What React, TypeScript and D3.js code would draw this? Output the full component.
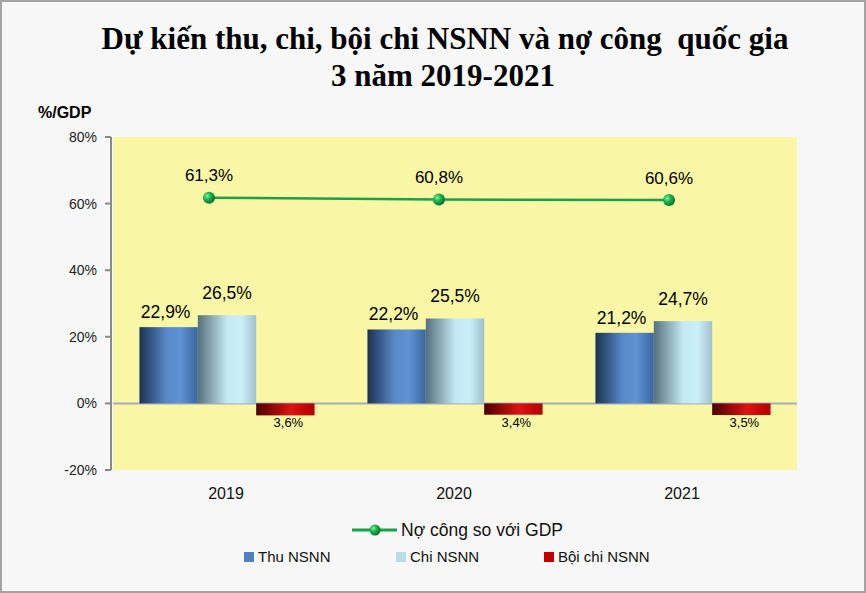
import React from "react";
import * as d3 from "d3";

const years = ["2019", "2020", "2021"];
const thuNSNN = [22.9, 22.2, 21.2];
const chiNSNN = [26.5, 25.5, 24.7];
const boiChi = [3.6, 3.4, 3.5];
const noCong = [61.3, 60.8, 60.6];
const yTicks = [-20, 0, 20, 40, 60, 80];
const seriesNames = ["Thu NSNN", "Chi NSNN", "Bội chi NSNN"];
const lineName = "Nợ công so với GDP";

const W = 866, H = 593;
const plot = { l: 113, r: 797, t: 137, b: 470 };

const fmt = (v: number) => v.toFixed(1).replace(".", ",") + "%";

export default function App() {
  const y = d3.scaleLinear().domain([-20, 80]).range([plot.b, plot.t]);
  const x0 = d3.scaleBand().domain(years).range([plot.l, plot.r]).paddingInner(0.232).paddingOuter(0.116);
  const x1 = d3.scaleBand().domain(["thu", "chi", "boi"]).range([0, x0.bandwidth()]);
  const xl = d3.scalePoint().domain(years).range([plot.l + 96, plot.r - 128]);
  const line = d3.line<number>().x((_, i) => xl(years[i])!).y((d) => y(d) - 1.5);
  const sans = "'Liberation Sans', Arial, sans-serif";

  const grads = {
    thu: [["0", "#1b3250"], ["0.45", "#5787c6"], ["0.7", "#5f93d4"], ["1", "#3b66a0"]],
    chi: [["0", "#56707c"], ["0.5", "#c3e8f3"], ["0.75", "#cbeff9"], ["1", "#a0c0cc"]],
    boi: [["0", "#4a0000"], ["0.6", "#dc1414"], ["1", "#b00000"]],
  } as Record<string, string[][]>;

  const bars: { key: string; vals: number[] }[] = [
    { key: "thu", vals: thuNSNN },
    { key: "chi", vals: chiNSNN },
    { key: "boi", vals: boiChi.map((v) => -v) },
  ];

  const legendColors = ["#4f81bd", "#b7dde8", "#c00000"];
  const legendX = [244, 396, 544];

  return (
    <svg width={W} height={H} style={{ position: "absolute", left: 0, top: 0 }}>
      <defs>
        {Object.keys(grads).map((k) => (
          <linearGradient key={k} id={"g-" + k} x1="0" x2="1" y1="0" y2="0">
            {grads[k].map(([o, c]) => (
              <stop key={o} offset={o} stopColor={c} />
            ))}
          </linearGradient>
        ))}
        <radialGradient id="g-dot" cx="0.35" cy="0.35" r="0.7">
          <stop offset="0" stopColor="#8ef0a8" />
          <stop offset="0.4" stopColor="#1fb850" />
          <stop offset="1" stopColor="#006b25" />
        </radialGradient>
      </defs>
      <rect x={1} y={1} width={W - 2} height={H - 2} fill="#f7f7f7" stroke="#a3a3a3" strokeWidth={2} />
      <text x={445} y={49} textAnchor="middle" fontFamily="'Liberation Serif', 'Times New Roman', serif" fontWeight="bold" fontSize={31} fill="#000" style={{ whiteSpace: "pre" }}>
        {"Dự kiến thu, chi, bội chi NSNN và nợ công  quốc gia"}
      </text>
      <text x={443} y={86} textAnchor="middle" fontFamily="'Liberation Serif', 'Times New Roman', serif" fontWeight="bold" fontSize={31} fill="#000">
        3 năm 2019-2021
      </text>
      <text x={38} y={118} fontFamily={sans} fontWeight="bold" fontSize={16} fill="#000">%/GDP</text>

      <rect x={plot.l} y={plot.t} width={plot.r - plot.l} height={plot.b - plot.t} fill="#f9f7a6" />
      <line x1={plot.l} x2={plot.r} y1={y(0)} y2={y(0)} stroke="#a4aeb8" strokeWidth={2} />
      <line x1={111} x2={111} y1={plot.t} y2={plot.b} stroke="#8a8a8a" strokeWidth={2} />
      {yTicks.map((t) => (
        <g key={t}>
          <line x1={105} x2={111} y1={y(t)} y2={y(t)} stroke="#8a8a8a" strokeWidth={2} />
          <text x={97} y={y(t) + 5} textAnchor="end" fontFamily={sans} fontSize={14} fill="#222">
            {t + "%"}
          </text>
        </g>
      ))}

      {bars.map((s) =>
        years.map((yr, i) => {
          const v = s.vals[i];
          const xx = x0(yr)! + x1(s.key)!;
          const top = y(Math.max(0, v));
          const h = Math.abs(y(v) - y(0));
          return (
            <rect key={s.key + yr} x={xx} y={top} width={x1.bandwidth()} height={h} fill={`url(#g-${s.key})`} />
          );
        })
      )}
      {years.map((yr, i) => (
        <g key={"lab" + yr} fontFamily={sans} fill="#000">
          <text x={x0(yr)! + x1("thu")! + x1.bandwidth() / 2 - 3} y={y(thuNSNN[i]) - 9} textAnchor="middle" fontSize={17.5}>
            {fmt(thuNSNN[i])}
          </text>
          <text x={x0(yr)! + x1("chi")! + x1.bandwidth() / 2} y={y(chiNSNN[i]) - 16} textAnchor="middle" fontSize={17.5}>
            {fmt(chiNSNN[i])}
          </text>
          <text x={x0(yr)! + x1("boi")! + x1.bandwidth() / 2 + 3} y={y(-boiChi[i]) + 12} textAnchor="middle" fontSize={13}>
            {fmt(boiChi[i])}
          </text>
          <text x={x0(yr)! + x0.bandwidth() / 2 - 1} y={499} textAnchor="middle" fontSize={16} fill="#111">
            {yr}
          </text>
        </g>
      ))}

      <path d={line(noCong)!} fill="none" stroke="#16a24a" strokeWidth={2.5} />
      {noCong.map((v, i) => (
        <g key={"pt" + i}>
          <circle cx={xl(years[i])} cy={y(v) - 1.5} r={6} fill="url(#g-dot)" />
          <text x={xl(years[i])} y={y(v) - 18} textAnchor="middle" fontFamily={sans} fontSize={17} fill="#000">
            {fmt(v)}
          </text>
        </g>
      ))}

      <line x1={352} x2={397} y1={530} y2={530} stroke="#16a24a" strokeWidth={3} />
      <circle cx={375} cy={530} r={5.5} fill="url(#g-dot)" />
      <text x={401} y={536} fontFamily={sans} fontSize={17.5} fill="#111">{lineName}</text>
      {seriesNames.map((n, i) => (
        <g key={n}>
          <rect x={legendX[i]} y={552} width={10} height={10} fill={legendColors[i]} />
          <text x={legendX[i] + 14} y={562} fontFamily={sans} fontSize={15} fill="#111">{n}</text>
        </g>
      ))}
    </svg>
  );
}
